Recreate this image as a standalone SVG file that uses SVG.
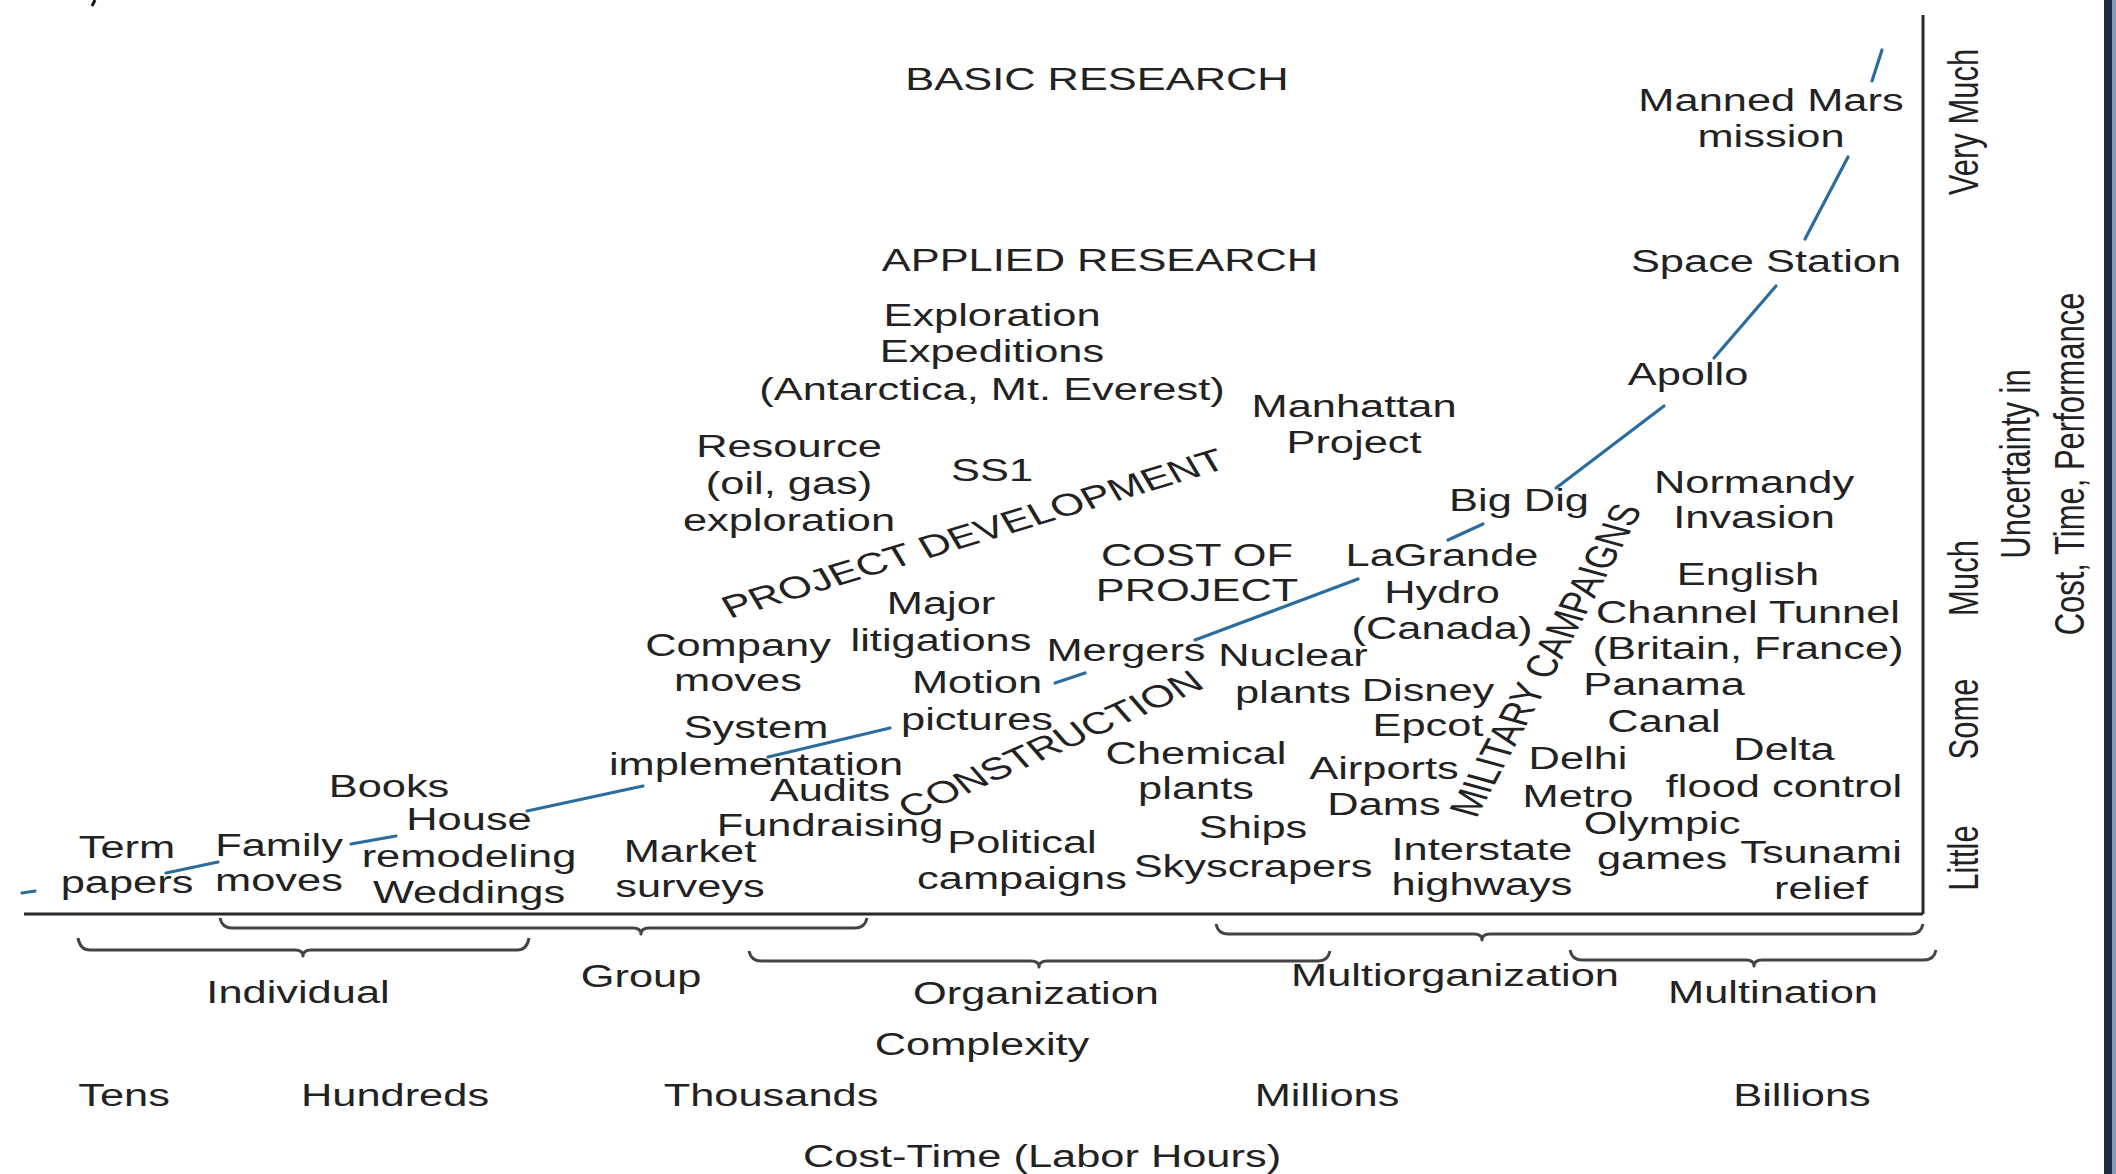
<svg xmlns="http://www.w3.org/2000/svg" width="2116" height="1174" viewBox="0 0 2116 1174">
  <style>
    .t { font-family: "Liberation Sans", Arial, sans-serif; font-size: 31px; fill: #222; text-anchor: middle; }
    .curve { stroke: #2b6c9e; stroke-width: 3.2; stroke-linecap: round; fill: none; }
    .axis { stroke: #2a2a2a; stroke-width: 3; fill: none; }
    .brace { stroke: #444; stroke-width: 3; fill: none; stroke-linejoin: round; }
  </style>
  <rect width="2116" height="1174" fill="#ffffff"/>

  <!-- page edge -->
  <rect x="2104" y="0" width="8" height="1174" fill="#1d2b44"/>
  <rect x="2112" y="0" width="4" height="1174" fill="#8a9bb5"/>
  <path d="M95 0 L92 6" stroke="#111" stroke-width="3"/>

  <!-- axes -->
  <g id="axes">
    <path class="axis" d="M24 914 H1923"/>
    <path class="axis" d="M1923 15 V914"/>
  </g>

  <!-- connectors: the rising trend curve between project types -->
  <g id="connectors">
    <path class="curve" d="M22 893 L35 891"/>
    <path class="curve" d="M166 873 L218 862"/>
    <path class="curve" d="M351 844 L396 836"/>
    <path class="curve" d="M527 811 L643 786"/>
    <path class="curve" d="M768 757 L890 728"/>
    <path class="curve" d="M1055 683 L1085 673"/>
    <path class="curve" d="M1195 640 L1358 579"/>
    <path class="curve" d="M1448 540 L1483 524"/>
    <path class="curve" d="M1556 488 L1664 406"/>
    <path class="curve" d="M1714 358 L1776 286"/>
    <path class="curve" d="M1805 239 L1848 157"/>
    <path class="curve" d="M1872 81 L1882 50"/>
  </g>

  <!-- braces grouping complexity levels -->
  <g id="braces">
    <path class="brace" d="M78 938 Q80 950 90 950 L295 950 Q303 950 303 956 Q303 950 311 950 L517 950 Q527 950 529 938"/>
    <path class="brace" d="M220 918 Q222 928 232 928 L633 928 Q641 928 641 934 Q641 928 649 928 L855 928 Q865 928 867 918"/>
    <path class="brace" d="M749 951 Q751 961 761 961 L1031 961 Q1039 961 1039 967 Q1039 961 1047 961 L1318 961 Q1328 961 1330 951"/>
    <path class="brace" d="M1216 924 Q1218 934 1228 934 L1474 934 Q1482 934 1482 940 Q1482 934 1490 934 L1911 934 Q1921 934 1923 924"/>
    <path class="brace" d="M1570 950 Q1572 960 1582 960 L1746 960 Q1754 960 1754 966 Q1754 960 1762 960 L1924 960 Q1934 960 1936 950"/>
  </g>

  <!-- region headings -->
  <g id="basic-research"><text class="t" transform="translate(1097 90) scale(1.4 1)">BASIC RESEARCH</text></g>
  <g id="applied-research"><text class="t" transform="translate(1100 271) scale(1.4 1)">APPLIED RESEARCH</text></g>
  <g id="project-development"><text class="t" transform="translate(973 533) scale(1.4 1) rotate(-23)" y="11">PROJECT DEVELOPMENT</text></g>
  <g id="construction"><text class="t" transform="translate(1050 744) scale(1.4 1) rotate(-32)" y="11">CONSTRUCTION</text></g>
  <g id="military-campaigns"><text class="t" transform="translate(1545 660) scale(1.4 1) rotate(-69)" y="11">MILITARY CAMPAIGNS</text></g>
  <g id="cost-of-project"><text class="t" transform="translate(1197 566) scale(1.4 1)"><tspan x="0" y="0">COST OF</tspan><tspan x="0" y="35">PROJECT</tspan></text></g>

  <!-- project types -->
  <g id="exploration"><text class="t" transform="translate(992 326) scale(1.4 1)"><tspan x="0" y="0">Exploration</tspan><tspan x="0" y="36">Expeditions</tspan><tspan x="0" y="74">(Antarctica, Mt. Everest)</tspan></text></g>
  <g id="manhattan"><text class="t" transform="translate(1354 417) scale(1.4 1)"><tspan x="0" y="0">Manhattan</tspan><tspan x="0" y="36">Project</tspan></text></g>
  <g id="mars"><text class="t" transform="translate(1771 111) scale(1.4 1)"><tspan x="0" y="0">Manned Mars</tspan><tspan x="0" y="36">mission</tspan></text></g>
  <g id="space-station"><text class="t" transform="translate(1766 272) scale(1.4 1)">Space Station</text></g>
  <g id="apollo"><text class="t" transform="translate(1688 385) scale(1.4 1)">Apollo</text></g>
  <g id="resource"><text class="t" transform="translate(789 457) scale(1.4 1)"><tspan x="0" y="0">Resource</tspan><tspan x="0" y="37">(oil, gas)</tspan><tspan x="0" y="74">exploration</tspan></text></g>
  <g id="ss1"><text class="t" transform="translate(992 481) scale(1.4 1)">SS1</text></g>
  <g id="big-dig"><text class="t" transform="translate(1519 511) scale(1.4 1)">Big Dig</text></g>
  <g id="normandy"><text class="t" transform="translate(1754 493) scale(1.4 1)"><tspan x="0" y="0">Normandy</tspan><tspan x="0" y="35">Invasion</tspan></text></g>
  <g id="lagrande"><text class="t" transform="translate(1442 566) scale(1.4 1)"><tspan x="0" y="0">LaGrande</tspan><tspan x="0" y="37">Hydro</tspan><tspan x="0" y="73">(Canada)</tspan></text></g>
  <g id="channel-tunnel"><text class="t" transform="translate(1748 585) scale(1.4 1)"><tspan x="0" y="0">English</tspan><tspan x="0" y="38">Channel Tunnel</tspan><tspan x="0" y="74">(Britain, France)</tspan></text></g>
  <g id="litigations"><text class="t" transform="translate(941 614) scale(1.4 1)"><tspan x="0" y="0">Major</tspan><tspan x="0" y="37">litigations</tspan></text></g>
  <g id="company-moves"><text class="t" transform="translate(738 656) scale(1.4 1)"><tspan x="0" y="0">Company</tspan><tspan x="0" y="35">moves</tspan></text></g>
  <g id="mergers"><text class="t" transform="translate(1126 661) scale(1.4 1)">Mergers</text></g>
  <g id="nuclear"><text class="t" transform="translate(1293 666) scale(1.4 1)"><tspan x="0" y="0">Nuclear</tspan><tspan x="0" y="37">plants</tspan></text></g>
  <g id="motion-pictures"><text class="t" transform="translate(977 693) scale(1.4 1)"><tspan x="0" y="0">Motion</tspan><tspan x="0" y="37">pictures</tspan></text></g>
  <g id="epcot"><text class="t" transform="translate(1428 701) scale(1.4 1)"><tspan x="0" y="0">Disney</tspan><tspan x="0" y="35">Epcot</tspan></text></g>
  <g id="panama"><text class="t" transform="translate(1664 695) scale(1.4 1)"><tspan x="0" y="0">Panama</tspan><tspan x="0" y="37">Canal</tspan></text></g>
  <g id="system"><text class="t" transform="translate(756 738) scale(1.4 1)"><tspan x="0" y="0">System</tspan><tspan x="0" y="37">implementation</tspan></text></g>
  <g id="chemical"><text class="t" transform="translate(1196 764) scale(1.4 1)"><tspan x="0" y="0">Chemical</tspan><tspan x="0" y="35">plants</tspan></text></g>
  <g id="airports"><text class="t" transform="translate(1384 779) scale(1.4 1)"><tspan x="0" y="0">Airports</tspan><tspan x="0" y="36">Dams</tspan></text></g>
  <g id="delhi"><text class="t" transform="translate(1578 769) scale(1.4 1)"><tspan x="0" y="0">Delhi</tspan><tspan x="0" y="38">Metro</tspan></text></g>
  <g id="delta"><text class="t" transform="translate(1784 760) scale(1.4 1)"><tspan x="0" y="0">Delta</tspan><tspan x="0" y="37">flood control</tspan></text></g>
  <g id="books"><text class="t" transform="translate(389 797) scale(1.4 1)">Books</text></g>
  <g id="audits"><text class="t" transform="translate(830 801) scale(1.4 1)">Audits</text></g>
  <g id="house"><text class="t" transform="translate(469 830) scale(1.4 1)"><tspan x="0" y="0">House</tspan><tspan x="0" y="37">remodeling</tspan><tspan x="0" y="73">Weddings</tspan></text></g>
  <g id="fundraising"><text class="t" transform="translate(830 836) scale(1.4 1)">Fundraising</text></g>
  <g id="ships"><text class="t" transform="translate(1253 838) scale(1.4 1)"><tspan x="0" y="0">Ships</tspan><tspan x="0" y="39">Skyscrapers</tspan></text></g>
  <g id="olympic"><text class="t" transform="translate(1662 834) scale(1.4 1)"><tspan x="0" y="0">Olympic</tspan><tspan x="0" y="35">games</tspan></text></g>
  <g id="political"><text class="t" transform="translate(1022 853) scale(1.4 1)"><tspan x="0" y="0">Political</tspan><tspan x="0" y="36">campaigns</tspan></text></g>
  <g id="term-papers"><text class="t" transform="translate(127 858) scale(1.4 1)"><tspan x="0" y="0">Term</tspan><tspan x="0" y="35">papers</tspan></text></g>
  <g id="family-moves"><text class="t" transform="translate(279 856) scale(1.4 1)"><tspan x="0" y="0">Family</tspan><tspan x="0" y="35">moves</tspan></text></g>
  <g id="market"><text class="t" transform="translate(690 862) scale(1.4 1)"><tspan x="0" y="0">Market</tspan><tspan x="0" y="35">surveys</tspan></text></g>
  <g id="interstate"><text class="t" transform="translate(1482 860) scale(1.4 1)"><tspan x="0" y="0">Interstate</tspan><tspan x="0" y="35">highways</tspan></text></g>
  <g id="tsunami"><text class="t" transform="translate(1821 863) scale(1.4 1)"><tspan x="0" y="0">Tsunami</tspan><tspan x="0" y="36">relief</tspan></text></g>

  <!-- complexity and cost-time scales -->
  <g id="complexity-scale">
    <text class="t" transform="translate(298 1003) scale(1.4 1)">Individual</text>
    <text class="t" transform="translate(641 987) scale(1.4 1)">Group</text>
    <text class="t" transform="translate(1036 1004) scale(1.4 1)">Organization</text>
    <text class="t" transform="translate(1455 986) scale(1.4 1)">Multiorganization</text>
    <text class="t" transform="translate(1773 1003) scale(1.4 1)">Multination</text>
    <text class="t" transform="translate(982 1055) scale(1.4 1)">Complexity</text>
  </g>
  <g id="cost-time-scale">
    <text class="t" transform="translate(124 1106) scale(1.4 1)">Tens</text>
    <text class="t" transform="translate(395 1106) scale(1.4 1)">Hundreds</text>
    <text class="t" transform="translate(771 1106) scale(1.4 1)">Thousands</text>
    <text class="t" transform="translate(1327 1106) scale(1.4 1)">Millions</text>
    <text class="t" transform="translate(1802 1106) scale(1.4 1)">Billions</text>
    <text class="t" transform="translate(1042 1167) scale(1.4 1)">Cost-Time (Labor Hours)</text>
  </g>

  <!-- uncertainty scale -->
  <g id="uncertainty-scale">
    <text class="t" transform="translate(1978 122) scale(1.4 1) rotate(-90)">Very Much</text>
    <text class="t" transform="translate(1978 578) scale(1.4 1) rotate(-90)">Much</text>
    <text class="t" transform="translate(1978 719) scale(1.4 1) rotate(-90)">Some</text>
    <text class="t" transform="translate(1978 858) scale(1.4 1) rotate(-90)">Little</text>
    <text class="t" transform="translate(2030 464) scale(1.4 1) rotate(-90)">Uncertainty in</text>
    <text class="t" transform="translate(2084 464) scale(1.4 1) rotate(-90)">Cost, Time, Performance</text>
  </g>
</svg>
